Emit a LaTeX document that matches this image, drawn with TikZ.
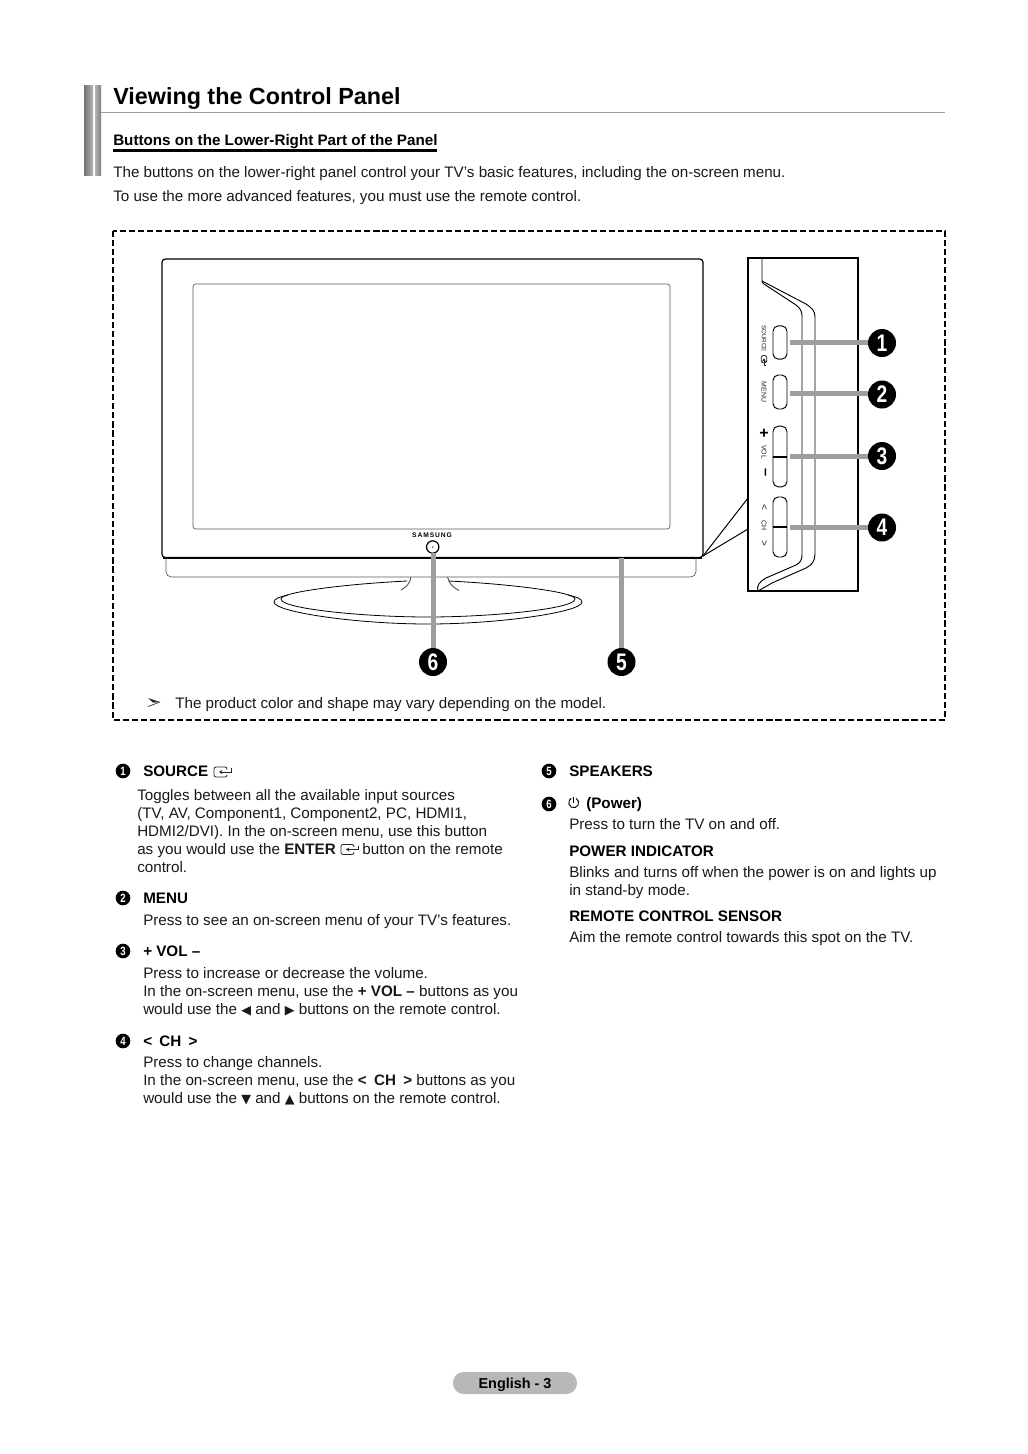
\documentclass[tikz,border=0pt]{standalone}
\usepackage{fontspec}
\setmainfont{Liberation Sans}
\newfontfamily\symfont{DejaVu Sans}
\usetikzlibrary{arrows.meta}
\newcommand{\bodyf}{\fontsize{11.4pt}{13pt}\selectfont}
\newcommand{\headf}{\fontsize{11.4pt}{13pt}\selectfont\bfseries}
\newcommand{\tri}[1]{{\symfont\fontsize{9.5pt}{10pt}\selectfont #1}}
\newcommand{\tall}[1]{\scalebox{0.8}[1]{#1}}
\definecolor{dither}{gray}{0.62}
\definecolor{ink}{gray}{0.1}
\tikzset{
  body/.style={anchor=base west,inner sep=0pt,font=\bodyf,text=ink},
  head/.style={anchor=base west,inner sep=0pt,font=\headf},
  tinylabel/.style={inner sep=0pt,font=\fontsize{5.2pt}{6pt}\selectfont,rotate=-90,text=black!85},
  bigball/.style={circle,fill=black,minimum size=21pt,inner sep=0pt,text=white,font=\fontsize{18pt}{18pt}\selectfont\bfseries},
  smallball/.style={circle,fill=black,minimum size=11pt,inner sep=0pt,text=white,font=\fontsize{9pt}{9pt}\selectfont\bfseries},
  leader/.style={draw=dither,line width=3.75pt},
  thinline/.style={draw=black,line width=0.75pt},
  hairline/.style={draw=black!65,line width=0.5pt},
  panelbtn/.style={draw=black,line width=0.7pt,rounded corners=4pt,minimum width=10.5pt,inner sep=0pt},
  entericon/.pic={
    \draw[black!85,line width=0.6pt,rounded corners=1.5pt] (4,2.5) -- (4,5) -- (-9,5) -- (-9,-5) -- (4,-5) -- (4,-2.5);
    \draw[black!85,line width=0.6pt,-{Stealth[length=2.6pt,width=3pt]}] (8,-4) -- (8,0) -- (-4,0);
  }
}
\begin{document}
\begin{tikzpicture}[x=0.75pt,y=-0.75pt]
\useasboundingbox (0,0) rectangle (1028,1454);
\fill[white] (0,0) rectangle (1028,1454);

% title block
\shade[left color=black!55,right color=black!28] (84,85) rectangle (93,175);
\shade[left color=black!30,right color=black!50] (95,85) rectangle (101,175);
\draw[dither,line width=1.1pt] (101,112.5) -- (945,112.5);
\node[anchor=base west,inner sep=0pt,font=\fontsize{17.5pt}{20pt}\selectfont\bfseries] (title) at (113,104.5) {Viewing the Control Panel};
\node[anchor=base west,inner sep=0pt,font=\fontsize{11.4pt}{13pt}\selectfont\bfseries] (subtitle) at (113,145) {Buttons on the Lower-Right Part of the Panel};
\draw[black,line width=1.9pt] (113,150.7) -- (437,150.7);
\node[body] (intro1) at (113,177) {The buttons on the lower-right panel control your TV’s basic features, including the on-screen menu.};
\node[body] (intro2) at (113,201) {To use the more advanced features, you must use the remote control.};

% dashed frame
\draw[black,line width=1.5pt,dash pattern=on 4.6pt off 2.2pt] (113,231) rectangle (945,720);

% TV
\draw[thinline,line width=0.9pt,rounded corners=2.5pt] (162,259) rectangle (703,557.5);
\draw[black,line width=1.5pt] (163,557.5) -- (702,557.5);
\draw[hairline,rounded corners=2pt] (193,284) rectangle (670,529);
\draw[hairline,rounded corners=4pt] (166,558) -- (166,577) -- (696,577) -- (696,558);
\node[inner sep=0pt,font=\fontsize{5pt}{5pt}\selectfont\bfseries\addfontfeatures{LetterSpace=14}] (brand) at (432,535) {SAMSUNG};
\node[circle,draw=black,line width=0.9pt,minimum size=9.3pt,inner sep=0pt] (powerled) at (432.7,547) {};
\fill[black!70] (powerled.center) circle[radius=0.8];
% stand
\draw[hairline,line width=0.7pt] (411,577) .. controls (410,584) and (406,587) .. (401,590);
\draw[hairline,line width=0.7pt] (447.5,577) .. controls (449,584) and (454,588) .. (459,590.5);
\draw[thinline,line width=0.6pt] (449,581) .. controls (510,584) and (575,592) .. (575,599) .. controls (575,609) and (490,617) .. (428,617) .. controls (366,617) and (281,609) .. (281,599) .. controls (281,592) and (346,584) .. (407,581);
\draw[thinline,line width=0.6pt] (568,595) .. controls (577,597) and (582,599) .. (582,602) .. controls (582,612) and (500,624) .. (428,624) .. controls (356,624) and (274,612) .. (274,602) .. controls (274,599) and (279,597) .. (288,595);

% callout lines from TV corner to the enlarged panel
\coordinate (corner) at (703,556);
\coordinate (pa) at (748,498);
\coordinate (pb) at (748,529);
\draw[thinline] (corner) -- (pa);
\draw[thinline] (corner) -- (pb);

% enlarged panel
\draw[black,line width=1pt,fill=white] (748,258) rectangle (858,591);
\draw[thinline,line width=0.7pt] (762,258) -- (762,281) .. controls (762,282) and (763,283) .. (764,284) -- (796,305) .. controls (800,308) and (802,311) .. (802,316) -- (802,555) .. controls (802,560) and (800,563) .. (796,565) -- (766,578) .. controls (760,581) and (756,586) .. (758,591);
\draw[thinline,line width=0.7pt] (762,281) -- (806,304) .. controls (812,308) and (815,311) .. (815,317) -- (815,554) .. controls (815,561) and (812,565) .. (806,568) -- (772,583) -- (758,591);
\node[panelbtn,minimum height=25pt] (btn1) at (780,342.5) {};
\node[panelbtn,minimum height=25.5pt] (btn2) at (780,392) {};
\node[panelbtn,minimum height=45.5pt] (btn3) at (780,456.5) {};
\node[panelbtn,minimum height=45pt] (btn4) at (780,527) {};
\draw[black,line width=1.5pt] (btn3.west) -- (btn3.east);
\draw[black,line width=1.5pt] (btn4.west) -- (btn4.east);
\node[tinylabel,font=\fontsize{4.7pt}{6pt}\selectfont] (lsource) at (764,338.5) {SOURCE};
\pic[rotate=-90,scale=0.55,transform shape] at (764,360.5) {entericon};
\node[tinylabel] (lmenu) at (764,392) {MENU};
\node[inner sep=0pt,font=\fontsize{12pt}{12pt}\selectfont\bfseries] (lplus) at (764,434) {+};
\node[tinylabel] (lvol) at (764,452) {VOL};
\node[inner sep=0pt,rotate=-90,font=\fontsize{11pt}{11pt}\selectfont\bfseries] (lminus) at (764,473) {–};
\node[tinylabel,font=\fontsize{7.5pt}{7.5pt}\selectfont] (llt) at (764,507) {<};
\node[tinylabel] (lch) at (764,525) {CH};
\node[tinylabel,font=\fontsize{7.5pt}{7.5pt}\selectfont] (lgt) at (764,543) {>};

% leaders and callout balls
\coordinate (a1) at (790,342.5);
\coordinate (a2) at (790,393);
\coordinate (a3) at (790,456);
\coordinate (a4) at (790,527);
\coordinate (a5) at (621.5,558);
\coordinate (a6) at (433,553);
\node[bigball] (n1) at (882,343) {\tall{1}};
\node[bigball] (n2) at (882,394.5) {\tall{2}};
\node[bigball] (n3) at (882,456) {\tall{3}};
\node[bigball] (n4) at (882,527.5) {\tall{4}};
\node[bigball] (n5) at (621.5,662) {\tall{5}};
\node[bigball] (n6) at (433,662) {\tall{6}};
\draw[leader] (a1) -- (a1 -| n1.west);
\draw[leader] (a2) -- (a2 -| n2.west);
\draw[leader] (a3) -- (a3 -| n3.west);
\draw[leader] (a4) -- (a4 -| n4.west);
\draw[leader] (a5) -- (n5.north);
\draw[leader] (a6) -- (n6.north);

% note
\fill[black!85] (148,698) -- (160,702) -- (153,702.6) -- cycle;
\draw[black!85,line width=0.5pt] (160,702) -- (148,706.5);
\node[body] (note) at (175,708) {The product color and shape may vary depending on the model.};

% left column
\node[smallball] (b1) at (123,771) {\tall{1}};
\node[head] (h1) at (143,776) {SOURCE};
\pic at (223,772) {entericon};
\node[body] (s1a) at (137,800) {Toggles between all the available input sources};
\node[body] (s1b) at (137,818) {(TV, AV, Component1, Component2, PC, HDMI1,};
\node[body] (s1c) at (137,836) {HDMI2/DVI). In the on-screen menu, use this button};
\node[body] (s1d) at (137,854) {as you would use the \textbf{ENTER}\hspace{20pt}button on the remote};
\pic at (350,849.5) {entericon};
\node[body] (s1e) at (137,872) {control.};
\node[smallball] (b2) at (123,898) {\tall{2}};
\node[head] (h2) at (143,903) {MENU};
\node[body] (s2a) at (143,925) {Press to see an on-screen menu of your TV’s features.};
\node[smallball] (b3) at (123,951) {\tall{3}};
\node[head] (h3) at (143,956) {+ VOL –};
\node[body] (s3a) at (143,978) {Press to increase or decrease the volume.};
\node[body] (s3b) at (143,996) {In the on-screen menu, use the \textbf{+ VOL –} buttons as you};
\node[body] (s3c) at (143,1014) {would use the \tri{◀} and \tri{▶} buttons on the remote control.};
\node[smallball] (b4) at (123,1041) {\tall{4}};
\node[head] (h4) at (143,1046) {<\hspace{2.3pt} CH \hspace{2.3pt}>};
\node[body] (s4a) at (143,1067) {Press to change channels.};
\node[body] (s4b) at (143,1085) {In the on-screen menu, use the \textbf{<\hspace{2.3pt} CH \hspace{2.3pt}>} buttons as you};
\node[body] (s4c) at (143,1103) {would use the \tri{▼} and \tri{▲} buttons on the remote control.};

% right column
\node[smallball] (b5) at (549,771) {\tall{5}};
\node[head] (h5) at (569,776) {SPEAKERS};
\node[smallball] (b6) at (549,804) {\tall{6}};
\draw[black,line width=0.7pt] (576.2,798.4) arc[start angle=-60,end angle=240,radius=5];
\draw[black,line width=0.7pt] (573.7,796.7) -- (573.7,803);
\node[head] (h6) at (586,808) {(Power)};
\node[body] (s6a) at (569,829) {Press to turn the TV on and off.};
\node[head] (h7) at (569,856) {POWER INDICATOR};
\node[body] (s7a) at (569,877) {Blinks and turns off when the power is on and lights up};
\node[body] (s7b) at (569,895) {in stand-by mode.};
\node[head] (h8) at (569,921) {REMOTE CONTROL SENSOR};
\node[body] (s8a) at (569,942) {Aim the remote control towards this spot on the TV.};

% footer
\node[fill=black!28,rounded corners=8pt,minimum width=93pt,minimum height=16.5pt,inner sep=0pt,text height=11pt,text depth=3.5pt,font=\fontsize{10.8pt}{13pt}\selectfont\bfseries] (footer) at (515,1383) {English - 3};
\end{tikzpicture}
\end{document}
